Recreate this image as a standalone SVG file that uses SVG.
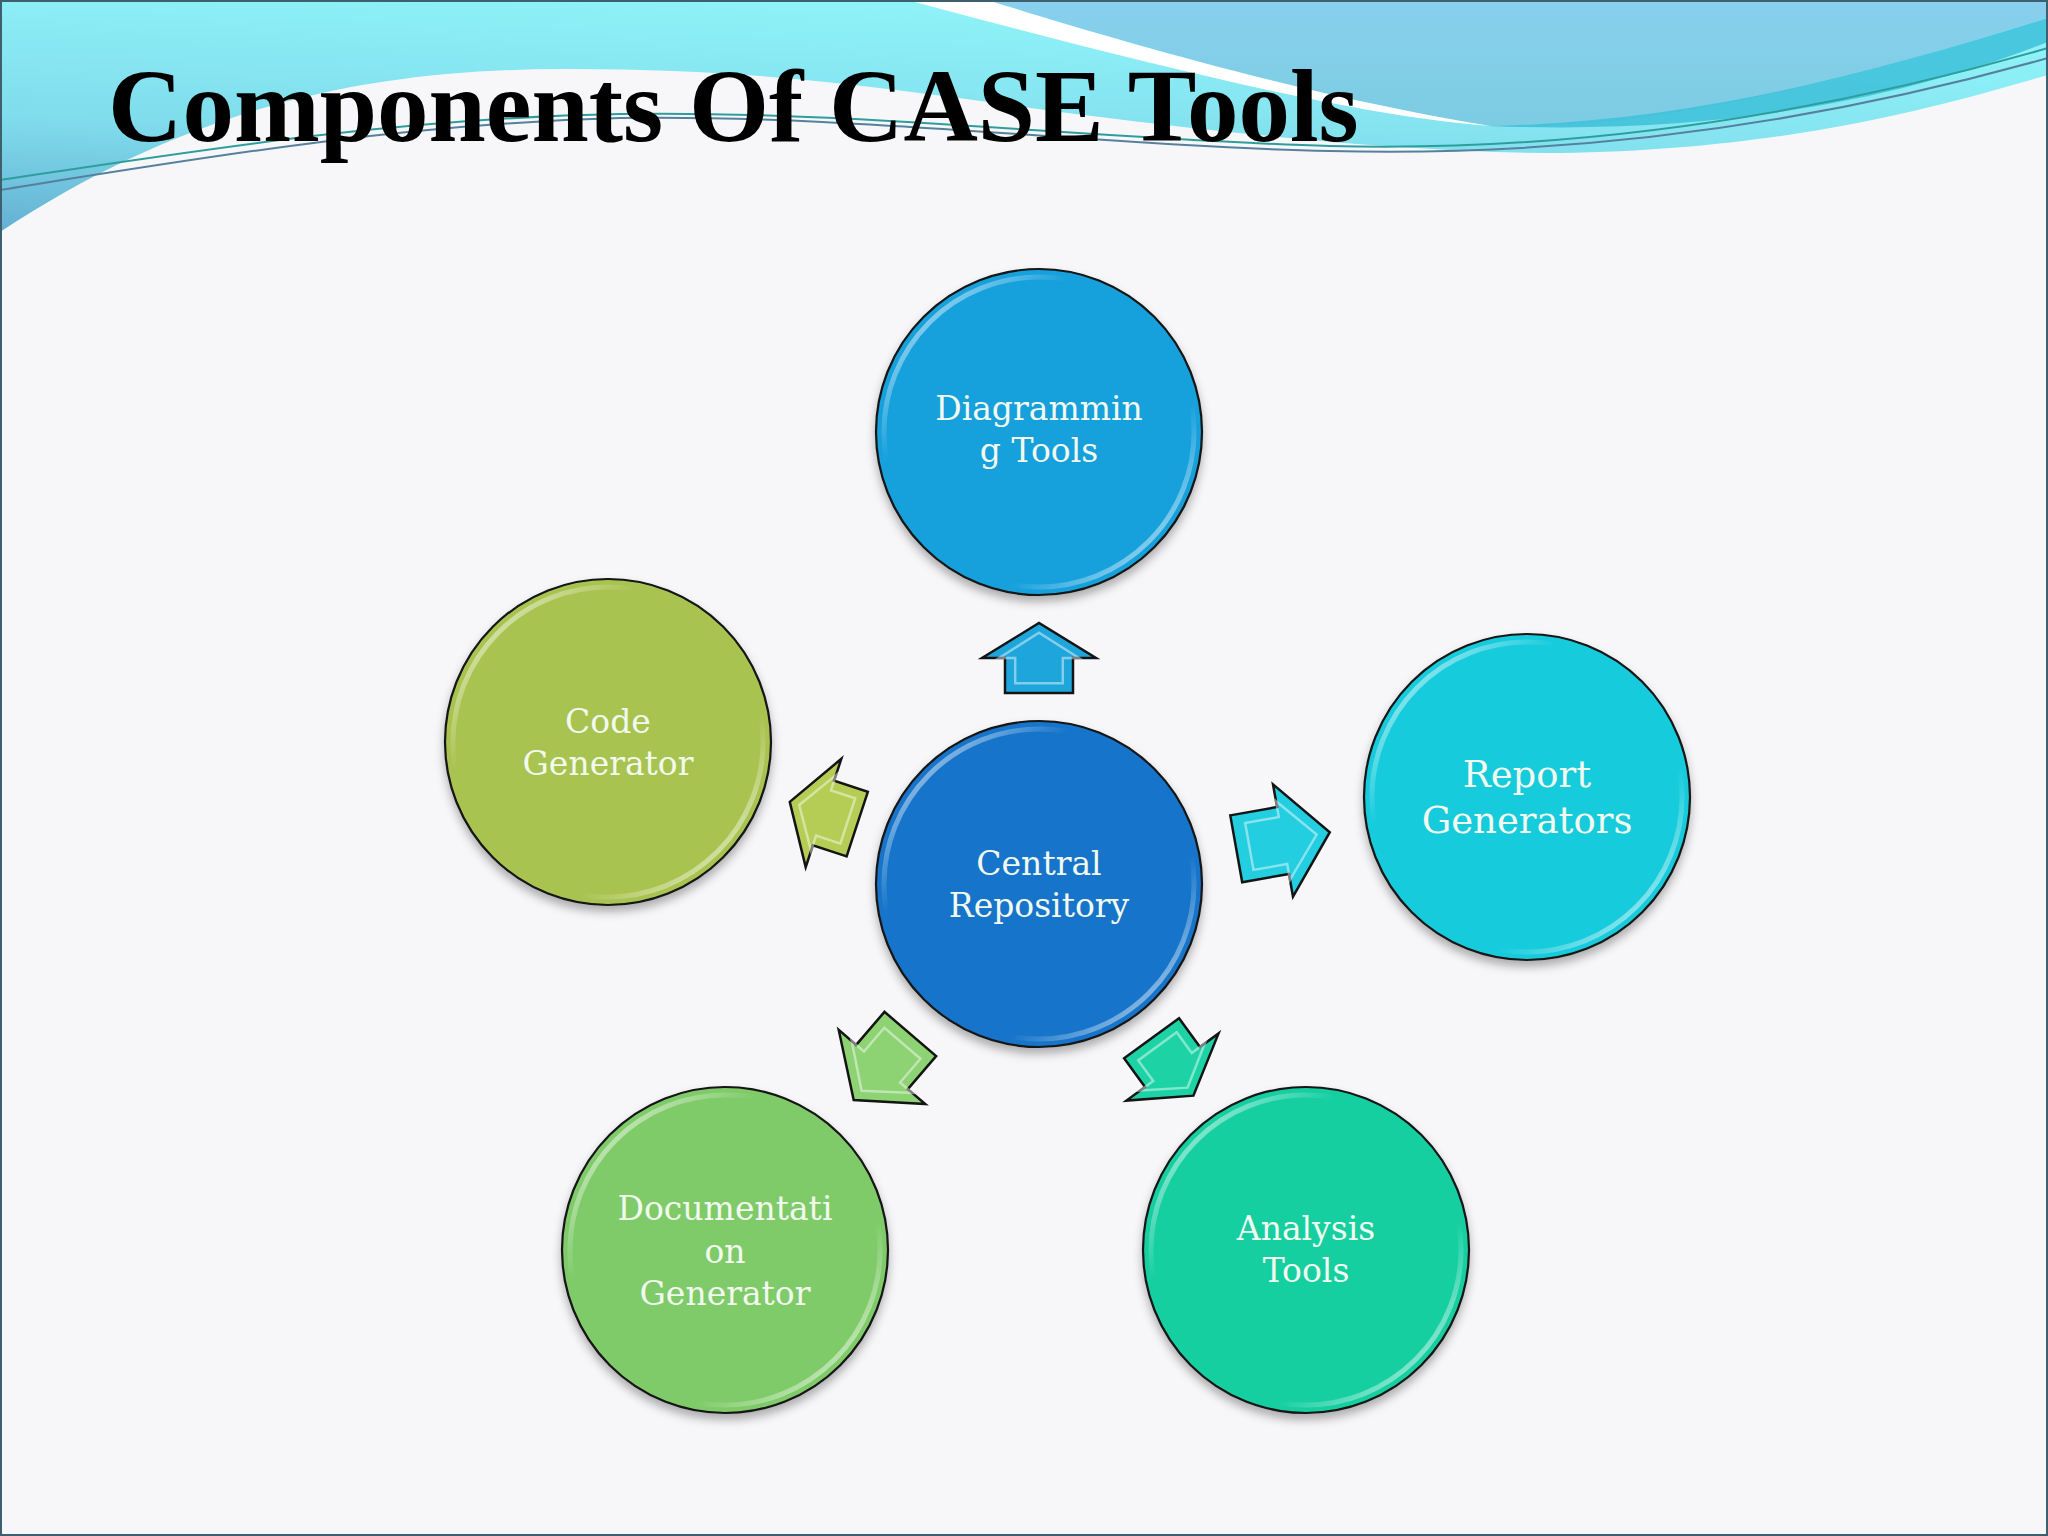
<svg xmlns="http://www.w3.org/2000/svg" width="2048" height="1536" viewBox="0 0 2048 1536">
<defs>
<linearGradient id="gCyan" x1="0.35" y1="0" x2="0" y2="1">
<stop offset="0" stop-color="#8FF2F8"/>
<stop offset="0.55" stop-color="#80DDEC"/>
<stop offset="1" stop-color="#64B0D3"/>
</linearGradient>
<linearGradient id="gBlue" x1="0" y1="0" x2="0" y2="1">
<stop offset="0" stop-color="#88D0EE"/>
<stop offset="1" stop-color="#7CCCE2"/>
</linearGradient>
<linearGradient id="gRim" x1="0" y1="0" x2="1" y2="1">
<stop offset="0" stop-color="#fff" stop-opacity="0.85"/>
<stop offset="0.3" stop-color="#fff" stop-opacity="0"/>
<stop offset="0.7" stop-color="#fff" stop-opacity="0"/>
<stop offset="1" stop-color="#fff" stop-opacity="0.85"/>
</linearGradient>
<filter id="shadow" x="-20%" y="-20%" width="140%" height="150%">
<feDropShadow dx="0" dy="6" stdDeviation="5" flood-color="#000" flood-opacity="0.3"/>
</filter>
</defs>
<style>
.node circle.body{stroke:#141414;stroke-width:2.2}
.node circle.rim{fill:none;stroke:url(#gRim);stroke-width:5}
.node text{font-family:"DejaVu Serif","Liberation Serif",serif;font-size:33px;fill:#F2F9EE;text-anchor:middle}
.arrow polygon.a-body{stroke:#141414;stroke-width:2.5;stroke-linejoin:miter}
.arrow polygon.a-bevel{fill:none;stroke:#fff;stroke-opacity:0.45;stroke-width:3.5}
.title{font-family:"Liberation Serif","DejaVu Serif",serif;font-weight:bold;font-size:103px;fill:#000}
.wline{fill:none;stroke-width:2}
</style>

<rect x="0" y="0" width="2048" height="1536" fill="#F7F7F9"/>

<g id="banner">
<path d="M0,0 H2048 V75 C1960,100 1800,150 1560,153 C1400,153 1200,130 1060,112 C900,90 760,68 560,69 C380,70 200,100 0,232 Z" fill="url(#gCyan)"/>
<path d="M987,0 H2048 V18 C1880,70 1700,122 1528,127 L1490,126 C1300,95 1100,35 987,0 Z" fill="url(#gBlue)"/>
<path d="M907,0 L987,0 C1100,35 1300,95 1490,126 C1350,115 1150,65 907,0 Z" fill="#FFFFFF"/>
<path d="M1490,126 C1700,122 1880,70 2048,18 V42 C1920,92 1740,136 1490,126 Z" fill="#3DBFD9" opacity="0.85"/>
<path class="wline" stroke="#2E9E9C" d="M0,180 C200,150 400,118 620,114 C850,110 1100,140 1330,146 C1560,152 1800,120 2048,48"/>
<path class="wline" stroke="#56809E" d="M0,190 C200,158 400,124 620,118 C850,114 1100,146 1330,151 C1560,157 1800,128 2048,58"/>
</g>

<text class="title" x="108" y="141">Components Of CASE Tools</text>

<g id="connectors">
<g class="arrow" transform="translate(1039 658) rotate(-90)">
<polygon class="a-body" fill="#1EA6DC" points="-35,-34 0,-34 0,-57 35,0 0,57 0,34 -35,34"/>
<polygon class="a-bevel" transform="scale(0.72 0.7)" points="-35,-34 0,-34 0,-57 35,0 0,57 0,34 -35,34"/>
</g>
<g class="arrow" transform="translate(1283 840.5) rotate(-10.1)">
<polygon class="a-body" fill="#22CEDF" points="-47.5,-34 0,-34 0,-57 47.5,0 0,57 0,34 -47.5,34"/>
<polygon class="a-bevel" transform="scale(0.72 0.7)" points="-47.5,-34 0,-34 0,-57 47.5,0 0,57 0,34 -47.5,34"/>
</g>
<g class="arrow" transform="translate(1172.5 1067) rotate(53.9)">
<polygon class="a-body" fill="#1DD3A5" points="-35.5,-34 0,-34 0,-57 35.5,0 0,57 0,34 -35.5,34"/>
<polygon class="a-bevel" transform="scale(0.72 0.7)" points="-35.5,-34 0,-34 0,-57 35.5,0 0,57 0,34 -35.5,34"/>
</g>
<g class="arrow" transform="translate(882 1067) rotate(130.6)">
<polygon class="a-body" fill="#8DD273" points="-43.5,-34 0,-34 0,-57 43.5,0 0,57 0,34 -43.5,34"/>
<polygon class="a-bevel" transform="scale(0.72 0.7)" points="-43.5,-34 0,-34 0,-57 43.5,0 0,57 0,34 -43.5,34"/>
</g>
<g class="arrow" transform="translate(823.5 813) rotate(-161.8)">
<polygon class="a-body" fill="#B6CD55" points="-35.5,-34 0,-34 0,-57 35.5,0 0,57 0,34 -35.5,34"/>
<polygon class="a-bevel" transform="scale(0.72 0.7)" points="-35.5,-34 0,-34 0,-57 35.5,0 0,57 0,34 -35.5,34"/>
</g>
</g>

<g id="node-diagramming" class="node">
<circle class="body" cx="1039" cy="432" r="163" fill="#14A0DC" filter="url(#shadow)"/>
<circle class="rim" cx="1039" cy="432" r="155"/>
<text x="1039" y="420">Diagrammin</text>
<text x="1039" y="462">g Tools</text>
</g>

<g id="node-code" class="node">
<circle class="body" cx="608" cy="742" r="163" fill="#A8C350" filter="url(#shadow)"/>
<circle class="rim" cx="608" cy="742" r="155"/>
<text x="608" y="733">Code</text>
<text x="608" y="775">Generator</text>
</g>

<g id="node-central" class="node">
<circle class="body" cx="1039" cy="884" r="163" fill="#1474CA" filter="url(#shadow)"/>
<circle class="rim" cx="1039" cy="884" r="155"/>
<text x="1039" y="875">Central</text>
<text x="1039" y="917">Repository</text>
</g>

<g id="node-report" class="node">
<circle class="body" cx="1527" cy="797" r="163" fill="#14CBDC" filter="url(#shadow)"/>
<circle class="rim" cx="1527" cy="797" r="155"/>
<text x="1527" y="787" style="font-size:37px">Report</text>
<text x="1527" y="833" style="font-size:37px">Generators</text>
</g>

<g id="node-documentation" class="node">
<circle class="body" cx="725" cy="1250" r="163" fill="#80CB69" filter="url(#shadow)"/>
<circle class="rim" cx="725" cy="1250" r="155"/>
<text x="725" y="1220">Documentati</text>
<text x="725" y="1263">on</text>
<text x="725" y="1305">Generator</text>
</g>

<g id="node-analysis" class="node">
<circle class="body" cx="1306" cy="1250" r="163" fill="#16CFA1" filter="url(#shadow)"/>
<circle class="rim" cx="1306" cy="1250" r="155"/>
<text x="1306" y="1240">Analysis</text>
<text x="1306" y="1282">Tools</text>
</g>

<rect x="1" y="1" width="2046" height="1534" fill="none" stroke="#3D5F6E" stroke-width="2"/>
</svg>
